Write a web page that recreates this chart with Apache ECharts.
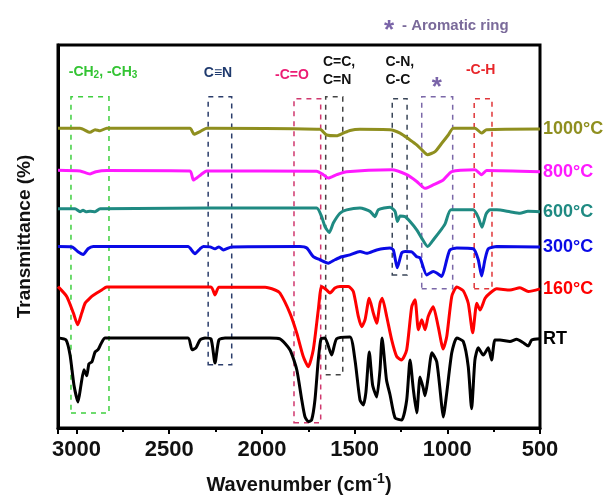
<!DOCTYPE html>
<html>
<head>
<meta charset="utf-8">
<script src="https://cdn.jsdelivr.net/npm/echarts@6/dist/echarts.min.js"></script>
<style>
  html, body { margin: 0; padding: 0; background: #fff; }
  #ftir { width: 607px; height: 501px; }
</style>
</head>
<body>
<div id="ftir"></div>
<script>
// FTIR spectra, [wavenumber (cm-1), transmittance offset]
const rtData = [[3100, 24.3], [3057, 23.8], [3035, 19.8], [3014, 11.9], [2992, 7.4], [2976, 11.9], [2960, 15.9], [2945, 14.3], [2933, 17.5], [2917, 18.0], [2900, 20.6], [2884, 21.2], [2868, 22.8], [2846, 24.3],
  [2399, 24.3], [2377, 21.2], [2356, 21.7], [2334, 23.8], [2307, 24.3], [2275, 24.1], [2253, 17.7], [2232, 23.8], [2199, 24.3], [1957, 24.3], [1903, 24.1], [1849, 21.2], [1812, 15.9], [1785, 7.9], [1768, 3.5], [1750, 2.2], [1732, 2.6], [1714, 7.9], [1696, 18.5], [1681, 24.1],
  [1660, 24.3], [1624, 19.8], [1597, 24.1], [1525, 24.6], [1498, 18.5], [1471, 7.9], [1453, 6.6], [1439, 10], [1421, 20.6], [1403, 11.9], [1381, 8.7], [1363, 15.9], [1352, 24.3], [1328, 13.2], [1309, 9.3], [1282, 3.2], [1246, 2.6], [1219, 7.9],
  [1201, 18.5], [1183, 10.6], [1165, 4.5], [1147, 14], [1130, 11.1], [1120, 9], [1103, 14], [1083, 20.4], [1057, 18], [1030, 6.3], [1022, 3.4], [1003, 9.8], [976, 20.4], [949, 24.3], [914, 23.4], [887, 16.7], [869, 5.6], [851, 18.5],
  [833, 21.7], [806, 19.8], [779, 21.7], [761, 18.5], [743, 23.8], [716, 23.8], [662, 23.4], [626, 24], [592, 23.1], [563, 22.2], [545, 23.8], [500, 24.1]]
const t160Data = [[3100, 37.9], [3053, 35.3], [3017, 30.9], [2994, 27.8], [2972, 30.9], [2954, 33.5], [2937, 34.4], [2918, 35.3], [2891, 36.2], [2864, 37], [2837, 37.8], [2275, 37.8], [2253, 35.7], [2232, 37.7], [1983, 37.7], [1929, 37], [1903, 36.2],
  [1849, 30.9], [1812, 25.6], [1777, 19.4], [1750, 16.7], [1723, 21.2], [1696, 31.7], [1678, 37.9], [1651, 37], [1633, 36.2], [1606, 37.5], [1579, 37.9], [1534, 37.9], [1507, 36.6], [1480, 30], [1462, 27.3], [1444, 29.1], [1421, 34.8],
  [1399, 30.9], [1381, 28.2], [1363, 33.5], [1351, 34.8], [1327, 30], [1300, 23.8], [1273, 19.4], [1246, 18.5], [1219, 21.2], [1192, 32.6], [1174, 34.4], [1156, 26.5], [1138, 29.1], [1120, 26.5], [1103, 30], [1076, 32.6], [1049, 27.3],
  [1022, 21.4], [1003, 24.7], [976, 35.3], [949, 37.8], [914, 36.8], [887, 33.5], [863, 25.7], [841, 33.5], [823, 31.7], [796, 34.8], [769, 36.2], [733, 37.3], [662, 37], [608, 37.6], [563, 36.6], [500, 37.3]]
const t300Data = [[3100, 48.5], [3024, 48.4], [2992, 47.1], [2964, 46.4], [2938, 47.9], [2910, 48.5], [2399, 48.5], [2361, 46.6], [2334, 47.9], [2316, 48.5], [2280, 48.4], [2253, 47.9], [2232, 48.4], [2208, 47.6], [2163, 48.4], [1795, 48.5],
  [1758, 48.1], [1723, 45.8], [1687, 45], [1642, 44.1], [1606, 45], [1570, 45.8], [1525, 46.3], [1471, 47.2], [1435, 46.7], [1381, 47.6], [1309, 48.1], [1291, 47.6], [1270, 42.9], [1246, 46.8], [1228, 47.2], [1192, 47.1], [1165, 45.8],
  [1147, 45.5], [1111, 41], [1076, 41.9], [1057, 41.5], [1030, 40.6], [1003, 45], [986, 47.6], [949, 48.1], [860, 47.9], [833, 45], [815, 40.7], [797, 45], [779, 47.9], [733, 48.5], [500, 48.4]]
const t600Data = [[3100, 58.5], [3008, 58.5], [2981, 57.7], [2965, 58.1], [2949, 57.7], [2927, 57.8], [2900, 57.7], [2873, 58.5], [1705, 58.7], [1678, 56.4], [1660, 53.8], [1637, 52.2], [1615, 54.7], [1579, 57.3], [1543, 58.2], [1471, 58.7],
  [1417, 57.8], [1390, 56.4], [1372, 58.2], [1309, 58.9], [1282, 57.8], [1269, 55.1], [1255, 56.6], [1228, 56.4], [1201, 55.1], [1165, 52.9], [1139, 50.8], [1106, 48.5], [1072, 50.5], [1040, 52.5], [1012, 54.5], [980, 58.2], [860, 58.2],
  [833, 56.2], [813, 53.6], [791, 57.1], [770, 58.2], [733, 58.2], [662, 57.7], [608, 57.3], [565, 57.8], [500, 57.7]]
const t800Data = [[3100, 68.7], [2981, 68.5], [2927, 67.7], [2895, 68.3], [2837, 68.6], [2388, 68.5], [2370, 66.1], [2350, 66.7], [2329, 67.5], [2298, 68.5], [1705, 68.4], [1669, 67.5], [1642, 66.6], [1597, 67.5], [1543, 68.3], [1300, 68.8],
  [1219, 67.5], [1165, 65.7], [1120, 63.9], [1076, 64.8], [1022, 66.1], [976, 68.3], [851, 68.8], [815, 67.5], [788, 68.6], [500, 68.3]]
const t1000Data = [[3100, 79.8], [2981, 79.8], [2927, 78.7], [2900, 79.4], [2873, 79.1], [2837, 79.8], [2388, 79.8], [2366, 78.2], [2334, 78.9], [2298, 79.8], [1687, 79.5], [1651, 78], [1597, 77.8], [1561, 78.5], [1525, 79.2], [1471, 79.5],
  [1309, 79.4], [1255, 78.5], [1201, 76.7], [1165, 75.4], [1138, 74.1], [1107, 72.8], [1066, 73.6], [1030, 75.8], [995, 78], [968, 79.8], [851, 79.8], [815, 78.5], [788, 79.4], [500, 79.6]]

const seriesNames = ['RT', '160°C', '300°C', '600°C', '800°C', '1000°C']
const seriesColors = ['#000000', '#ff0000', '#0a0ae6', '#1f8a82', '#ff1aff', '#8f8f1f']
const seriesData = [rtData, t160Data, t300Data, t600Data, t800Data, t1000Data]

// band boxes: [from, to, bottom, top]
const bandBoxes = [[3030, 2825, 4.5, 88.1], [2290, 2163, 17.2, 88.1], [1827, 1683, 1.9, 87.6], [1656, 1564, 14.6, 88.1], [1297, 1217, 41, 87.6], [1138, 971, 37.3, 88.1], [855, 759, 37.3, 87.6]]
const bandColors = ['#3fcf3f', '#2b3d6b', '#d0386e', '#444444', '#3a4658', '#7b68a8', '#e0363a']
// band labels: [wavenumber, level, text]
const bandLabels = [[2857, 94.7, '-CH{s|2}, -CH{s|3}'], [2237, 94.4, 'C≡N'], [1838, 93.9, '-C=O'], [1671, 95, 'C=C,\nC=N'], [1334, 95, 'C-N,\nC-C'], [1057, 90.5, '*'], [820, 95.2, '-C-H']]
const labelColors = ['#33c433', '#1f3a6e', '#ec1c74', '#111111', '#111111', '#7a64a8', '#e8262a']

const font = 'Liberation Sans, Arial, sans-serif'
const chart = echarts.init(document.getElementById('ftir'))

const series = seriesData.map((d, i) => {
  const last = d[d.length - 1]
  return {
    name: seriesNames[i],
    type: 'line',
    data: d,
    showSymbol: false,
    smooth: 0.2,
    z: 3,
    lineStyle: { color: seriesColors[i], width: 3 },
    itemStyle: { color: seriesColors[i] },
    markPoint: {
      silent: true,
      symbolSize: 0,
      data: [{
        coord: last,
        label: {
          show: true,
          position: 'right',
          distance: 3,
          formatter: seriesNames[i],
          color: seriesColors[i],
          fontSize: 18,
          fontWeight: 'bold',
          fontFamily: font
        }
      }]
    }
  }
})

series.push({
  name: 'bands',
  type: 'line',
  data: [],
  z: 1,
  markArea: {
    silent: true,
    data: bandBoxes.map((b, i) => [
      { xAxis: b[0], yAxis: b[2], itemStyle: { color: 'rgba(0,0,0,0)', borderColor: bandColors[i], borderWidth: 1.5, borderType: [5, 5] } },
      { xAxis: b[1], yAxis: b[3] }
    ])
  },
  markPoint: {
    silent: true,
    symbolSize: 0,
    data: bandLabels.map((l, i) => ({
      coord: [l[0], l[1]],
      label: {
        show: true,
        formatter: l[2],
        position: l[2].indexOf('\n') > 0 ? 'right' : 'inside',
        distance: 0,
        align: l[2].indexOf('\n') > 0 ? 'left' : 'center',
        color: labelColors[i],
        fontSize: l[2] === '*' ? 26 : 14,
        fontWeight: 'bold',
        fontFamily: font,
        lineHeight: 18,
        rich: { s: { fontSize: 10, fontWeight: 'bold', fontFamily: font, color: labelColors[i], padding: [6, 0, 0, 0] } }
      }
    }))
  }
})

const option = {
  animation: false,
  backgroundColor: '#fff',
  grid: { left: 58, right: 67, top: 45, bottom: 73, show: true, borderColor: '#000', borderWidth: 3 },
  graphic: [
    { type: 'text', left: 384, top: 18, style: { text: '*', fill: '#7a64a8', font: 'bold 26px ' + font } },
    { type: 'text', left: 402, top: 18, style: { text: '- Aromatic ring', fill: '#7a6a9a', font: 'bold 15px ' + font } }
  ],
  xAxis: {
    type: 'value',
    inverse: true,
    min: 500,
    max: 3100,
    interval: 500,
    name: 'Wavenumber (cm{sup|-1})',
    nameLocation: 'middle',
    nameGap: 44,
    nameTextStyle: {
      fontSize: 20, fontWeight: 'bold', color: '#111', fontFamily: font,
      rich: { sup: { fontSize: 14, fontWeight: 'bold', color: '#111', fontFamily: font, padding: [0, 0, 12, 0] } }
    },
    axisLine: { lineStyle: { color: '#000', width: 3 } },
    axisTick: { length: 6, lineStyle: { color: '#000', width: 2 } },
    minorTick: { show: true, splitNumber: 2, length: 4, lineStyle: { color: '#000', width: 2 } },
    axisLabel: { color: '#111', fontSize: 22, fontWeight: 'bold', fontFamily: font, margin: 11, showMaxLabel: false, formatter: v => String(v) },
    splitLine: { show: false }
  },
  yAxis: {
    type: 'value',
    min: 0.5,
    max: 101.8,
    name: 'Transmittance (%)',
    nameLocation: 'middle',
    nameGap: 24,
    nameTextStyle: { fontSize: 19, fontWeight: 'bold', color: '#111', fontFamily: font },
    axisLine: { show: true, lineStyle: { color: '#000', width: 3 } },
    axisTick: { show: false },
    axisLabel: { show: false },
    splitLine: { show: false }
  },
  series: series
}

chart.setOption(option)
</script>
</body>
</html>
